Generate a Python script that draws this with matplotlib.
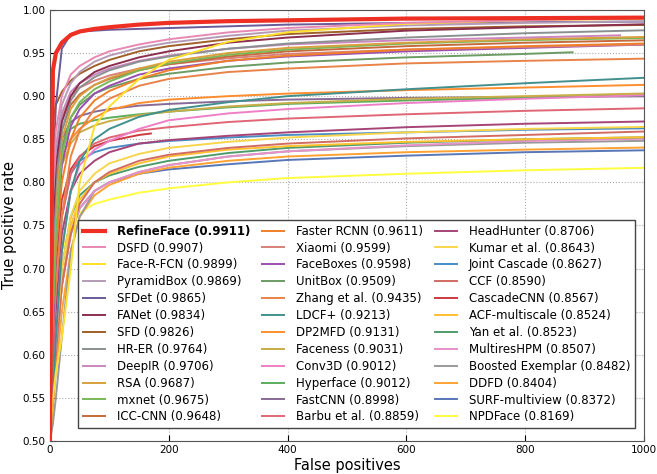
# FDDB discrete ROC curves: true positive rate vs false positives
import numpy as np
import matplotlib
matplotlib.use("Agg")
import matplotlib.pyplot as plt

fp_grid = [0, 5, 10, 20, 35, 50, 75, 100, 150, 200, 300, 400, 600, 800]

methods = ["RefineFace", "DSFD", "Face-R-FCN", "PyramidBox", "SFDet", "FANet",
           "SFD", "HR-ER", "DeepIR", "RSA", "mxnet", "ICC-CNN",
           "Faster RCNN", "Xiaomi", "FaceBoxes", "UnitBox", "Zhang et al.", "LDCF+",
           "DP2MFD", "Faceness", "Conv3D", "Hyperface", "FastCNN", "Barbu et al.",
           "HeadHunter", "Kumar et al.", "Joint Cascade", "CCF", "CascadeCNN", "ACF-multiscale",
           "Yan et al.", "MultiresHPM", "Boosted Exemplar", "DDFD", "SURF-multiview", "NPDFace"]

# TPR at 1000 false positives (or at the last point of the curve)
scores = [0.9911, 0.9907, 0.9899, 0.9869, 0.9865, 0.9834,
          0.9826, 0.9764, 0.9706, 0.9687, 0.9675, 0.9648,
          0.9611, 0.9599, 0.9598, 0.9509, 0.9435, 0.9213,
          0.9131, 0.9031, 0.9012, 0.9012, 0.8998, 0.8859,
          0.8706, 0.8643, 0.8627, 0.8590, 0.8567, 0.8524,
          0.8523, 0.8507, 0.8482, 0.8404, 0.8372, 0.8169]

# where each curve stops
end_fp = [1000] * 36
end_fp[methods.index("DeepIR")] = 960
end_fp[methods.index("UnitBox")] = 880
end_fp[methods.index("CascadeCNN")] = 170

tpr_values = [
    [0.50, 0.93, 0.950, 0.962, 0.971, 0.975, 0.978, 0.980, 0.983, 0.985, 0.987, 0.988, 0.990, 0.9905],
    [0.55, 0.80, 0.860, 0.900, 0.925, 0.935, 0.945, 0.952, 0.960, 0.966, 0.974, 0.979, 0.985, 0.988],
    [0.50, 0.55, 0.580, 0.620, 0.700, 0.800, 0.865, 0.888, 0.920, 0.942, 0.963, 0.974, 0.984, 0.988],
    [0.55, 0.78, 0.840, 0.890, 0.915, 0.928, 0.940, 0.947, 0.956, 0.962, 0.970, 0.976, 0.982, 0.985],
    [0.50, 0.80, 0.890, 0.955, 0.972, 0.975, 0.976, 0.977, 0.978, 0.979, 0.981, 0.983, 0.985, 0.9858],
    [0.55, 0.75, 0.820, 0.870, 0.900, 0.915, 0.928, 0.935, 0.945, 0.952, 0.962, 0.968, 0.976, 0.980],
    [0.60, 0.87, 0.890, 0.905, 0.918, 0.926, 0.935, 0.942, 0.952, 0.958, 0.966, 0.972, 0.978, 0.981],
    [0.50, 0.72, 0.800, 0.860, 0.895, 0.910, 0.922, 0.930, 0.940, 0.946, 0.955, 0.961, 0.968, 0.973],
    [0.55, 0.75, 0.830, 0.880, 0.905, 0.915, 0.925, 0.932, 0.941, 0.947, 0.955, 0.960, 0.965, 0.968],
    [0.55, 0.70, 0.780, 0.850, 0.885, 0.900, 0.913, 0.921, 0.932, 0.940, 0.950, 0.956, 0.962, 0.966],
    [0.50, 0.65, 0.740, 0.830, 0.875, 0.893, 0.908, 0.917, 0.930, 0.938, 0.948, 0.954, 0.961, 0.965],
    [0.55, 0.72, 0.800, 0.860, 0.890, 0.902, 0.913, 0.920, 0.930, 0.937, 0.946, 0.952, 0.958, 0.962],
    [0.55, 0.65, 0.720, 0.800, 0.850, 0.875, 0.895, 0.906, 0.920, 0.930, 0.941, 0.947, 0.954, 0.958],
    [0.55, 0.74, 0.820, 0.875, 0.900, 0.910, 0.918, 0.924, 0.932, 0.937, 0.944, 0.949, 0.954, 0.957],
    [0.50, 0.62, 0.720, 0.820, 0.865, 0.885, 0.903, 0.912, 0.925, 0.932, 0.941, 0.946, 0.952, 0.956],
    [0.55, 0.70, 0.780, 0.840, 0.875, 0.890, 0.903, 0.910, 0.920, 0.926, 0.934, 0.939, 0.945, 0.949],
    [0.55, 0.62, 0.680, 0.760, 0.830, 0.860, 0.885, 0.897, 0.912, 0.920, 0.928, 0.932, 0.938, 0.941],
    [0.50, 0.55, 0.620, 0.720, 0.790, 0.825, 0.850, 0.862, 0.876, 0.884, 0.893, 0.900, 0.908, 0.915],
    [0.60, 0.75, 0.800, 0.830, 0.850, 0.862, 0.875, 0.884, 0.892, 0.896, 0.900, 0.903, 0.907, 0.910],
    [0.55, 0.70, 0.770, 0.820, 0.845, 0.858, 0.866, 0.871, 0.878, 0.882, 0.888, 0.892, 0.897, 0.900],
    [0.50, 0.55, 0.620, 0.720, 0.790, 0.820, 0.838, 0.848, 0.862, 0.872, 0.880, 0.885, 0.892, 0.897],
    [0.55, 0.72, 0.790, 0.840, 0.862, 0.868, 0.872, 0.875, 0.879, 0.882, 0.887, 0.891, 0.895, 0.898],
    [0.55, 0.72, 0.800, 0.850, 0.870, 0.877, 0.882, 0.885, 0.889, 0.891, 0.894, 0.896, 0.898, 0.899],
    [0.50, 0.60, 0.680, 0.760, 0.810, 0.830, 0.845, 0.852, 0.860, 0.864, 0.870, 0.874, 0.879, 0.883],
    [0.50, 0.58, 0.650, 0.740, 0.790, 0.810, 0.825, 0.835, 0.845, 0.849, 0.854, 0.858, 0.864, 0.868],
    [0.50, 0.56, 0.620, 0.700, 0.760, 0.790, 0.810, 0.822, 0.833, 0.840, 0.847, 0.852, 0.858, 0.862],
    [0.50, 0.60, 0.680, 0.760, 0.810, 0.825, 0.835, 0.840, 0.845, 0.848, 0.852, 0.855, 0.858, 0.861],
    [0.50, 0.55, 0.600, 0.680, 0.740, 0.775, 0.800, 0.812, 0.825, 0.832, 0.840, 0.845, 0.851, 0.855],
    [0.50, 0.62, 0.700, 0.780, 0.815, 0.830, 0.842, 0.848, 0.855, 0.856, 0.856, 0.856, 0.856, 0.856],
    [0.50, 0.55, 0.600, 0.680, 0.750, 0.780, 0.800, 0.810, 0.822, 0.830, 0.838, 0.842, 0.847, 0.850],
    [0.50, 0.56, 0.620, 0.700, 0.760, 0.785, 0.800, 0.808, 0.818, 0.825, 0.834, 0.840, 0.846, 0.850],
    [0.50, 0.55, 0.600, 0.680, 0.740, 0.770, 0.790, 0.800, 0.812, 0.820, 0.830, 0.836, 0.843, 0.848],
    [0.50, 0.52, 0.550, 0.620, 0.720, 0.760, 0.790, 0.800, 0.812, 0.820, 0.830, 0.836, 0.842, 0.846],
    [0.50, 0.54, 0.580, 0.650, 0.720, 0.760, 0.785, 0.797, 0.810, 0.817, 0.825, 0.830, 0.835, 0.838],
    [0.50, 0.55, 0.600, 0.680, 0.740, 0.770, 0.790, 0.800, 0.810, 0.815, 0.821, 0.826, 0.831, 0.835],
    [0.50, 0.60, 0.660, 0.720, 0.750, 0.765, 0.775, 0.780, 0.788, 0.793, 0.800, 0.805, 0.810, 0.814],
]

colors = ["#ee2f24", "#e889b3", "#ffe02a", "#b49bb6", "#6a5b9a", "#8b2f4f",
          "#a0602a", "#8a9090", "#c987bd", "#d8a040", "#78b858", "#c66a3e",
          "#f07f2a", "#d7817a", "#9a4fb0", "#6c9c64", "#e8834a", "#42908e",
          "#ff8d2e", "#c8ad48", "#ee7fc6", "#5cad5c", "#886a96", "#e06676",
          "#a64478", "#f7d54c", "#4a8cc4", "#d26c62", "#cc3a3e", "#ffc02e",
          "#4e9c6a", "#e692c8", "#9a9a9a", "#ffa234", "#5877b8", "#ffff40"]

fig = plt.figure(figsize=(6.57, 4.74), dpi=100)
ax = fig.add_axes([0.076, 0.0696, 0.904, 0.9094])

grid = np.array(fp_grid)
# draw weakest first so RefineFace ends up on top
for i in reversed(range(len(methods))):
    vals = np.array(tpr_values[i])
    keep = grid < end_fp[i]
    x = np.append(grid[keep], end_fp[i])
    y = np.append(vals[keep], scores[i])
    lw = 3.0 if i == 0 else 1.4
    ax.plot(x, y, color=colors[i], lw=lw,
            label=f"{methods[i]} ({scores[i]:.4f})", zorder=3 if i == 0 else 2)

ax.set_xlim(0, 1000)
ax.set_ylim(0.5, 1.0)
ax.set_xticks(np.arange(0, 1001, 200))
ax.set_yticks(np.arange(0.5, 1.001, 0.05))
ax.yaxis.set_major_formatter(matplotlib.ticker.FormatStrFormatter("%.2f"))
ax.tick_params(direction="in", labelsize=7.5, length=4, pad=3)
ax.grid(True, linestyle=":", color="#aaaaaa", lw=0.8)
for s in ax.spines.values():
    s.set_color("#555555")
ax.set_xlabel("False positives", fontsize=10.5, labelpad=2)
ax.set_ylabel("True positive rate", fontsize=10.5, labelpad=4)

handles, labels = ax.get_legend_handles_labels()
handles, labels = handles[::-1], labels[::-1]
leg = ax.legend(handles, labels, ncol=3, loc="lower left",
                bbox_to_anchor=(0.037, 0.016, 0.958, 0.485), mode="expand",
                fontsize=8.5, labelspacing=0.33, handlelength=1.9,
                handletextpad=1.0, borderpad=0.4, fancybox=False,
                framealpha=1, edgecolor="#444444")
leg.get_frame().set_linewidth(1.0)
leg.get_texts()[0].set_fontweight("bold")

fig.savefig("out.png", dpi=100)
